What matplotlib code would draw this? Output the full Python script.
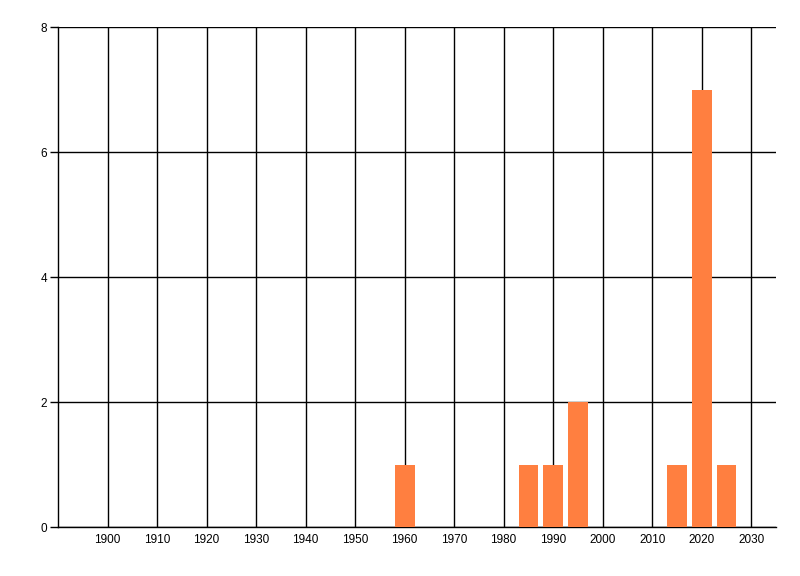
import matplotlib.pyplot as plt

# valores
years = [1960, 1985, 1990, 1995, 2015, 2020, 2025]
counts = [1, 1, 1, 2, 1, 7, 1]
decades = list(range(1900, 2031, 10))
yticks = [0, 2, 4, 6, 8]

plt.rcParams['font.family'] = ['Liberation Sans', 'DejaVu Sans']

fig = plt.figure(figsize=(8, 5.76), dpi=100)
ax = fig.add_axes([0.0725, 0.085, 0.8975, 0.868])

ax.bar(years, counts, width=4, color='#FF7F40', zorder=3)

ax.set_xlim(1890, 2035)
ax.set_ylim(0, 8)
ax.set_xticks(decades)
ax.set_yticks(yticks)

ax.grid(True, color='black', linewidth=1.0, zorder=0)
ax.set_axisbelow(True)

for side in ['top', 'right']:
    ax.spines[side].set_visible(False)
for side in ['left', 'bottom']:
    ax.spines[side].set_linewidth(1.0)

ax.tick_params(axis='x', length=0, pad=5, labelsize=8.5)
ax.tick_params(axis='y', length=6, width=1.0, pad=2, labelsize=8.5)

plt.savefig('out.png', dpi=100)
